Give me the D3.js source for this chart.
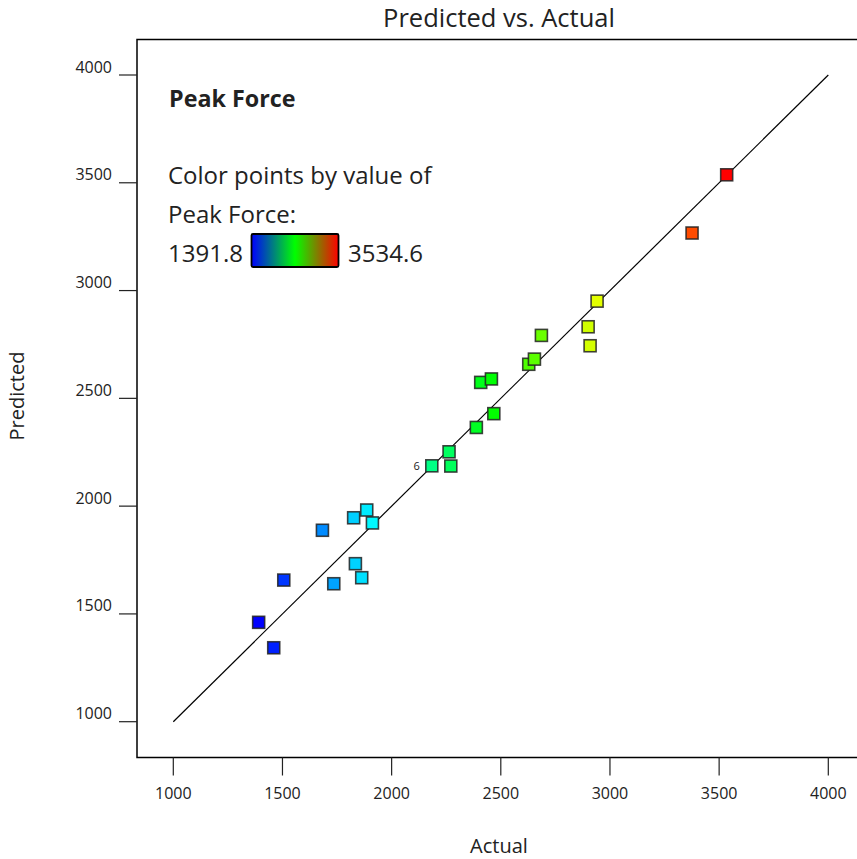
<!DOCTYPE html>
<html>
<head>
<meta charset="utf-8">
<script src="https://cdn.jsdelivr.net/npm/d3@7"></script>
<style>
  body { margin: 0; background: #fff; }
  text { font-family: "Open Sans", "Noto Sans", sans-serif; fill: #222; }
</style>
</head>
<body>
<div id="chart"></div>
<script>
// values (Actual vs Predicted, Peak Force)
const actual    = [1391, 1460, 1506, 1683, 1735, 1826, 1886, 1912, 1834, 1863,
                   2184, 2263, 2271, 2388, 2468, 2408, 2457, 2628, 2654, 2686,
                   2900, 2909, 2941, 3376, 3534.6];
const predicted = [1461, 1343, 1657, 1888, 1640, 1946, 1982, 1922, 1733, 1668,
                   2187, 2252, 2186, 2365, 2429, 2574, 2590, 2658, 2682, 2792,
                   2832, 2744, 2951, 3267, 3537];
const pointLabels = {10: "6"};
const ticks = [1000, 1500, 2000, 2500, 3000, 3500, 4000];
const colorMin = 1391.8, colorMax = 3534.6;

const width = 857, height = 859;
const frame = {left: 137, top: 39.5, right: 857, bottom: 757.5};

const svg = d3.select("#chart").append("svg")
    .attr("width", width)
    .attr("height", height);

const x = d3.scaleLinear().domain([1000, 4000]).range([173.3, 828.3]);
const y = d3.scaleLinear().domain([1000, 4000]).range([721.7, 75]);

const rainbow = d3.scaleLinear()
    .domain([0, 0.25, 0.5, 0.75, 1])
    .range(["#0000ff", "#00ffff", "#00ff00", "#ffff00", "#ff0000"])
    .interpolate(d3.interpolateRgb);
const color = v => rainbow((v - colorMin) / (colorMax - colorMin));

// frame (left, top, bottom)
svg.append("path")
    .attr("d", `M${frame.right},${frame.top} H${frame.left} V${frame.bottom} H${frame.right}`)
    .attr("fill", "none")
    .attr("stroke", "#000")
    .attr("stroke-width", 1.5);

// x ticks
const xt = svg.append("g");
xt.selectAll("line").data(ticks).enter().append("line")
    .attr("x1", d => x(d)).attr("x2", d => x(d))
    .attr("y1", frame.bottom).attr("y2", frame.bottom + 18)
    .attr("stroke", "#222").attr("stroke-width", 1.2);
xt.selectAll("text").data(ticks).enter().append("text")
    .attr("x", d => x(d)).attr("y", 798.5)
    .attr("text-anchor", "middle")
    .attr("font-size", 16)
    .text(d => d);

// y ticks
const yt = svg.append("g");
yt.selectAll("line").data(ticks).enter().append("line")
    .attr("x1", frame.left - 18).attr("x2", frame.left)
    .attr("y1", d => y(d)).attr("y2", d => y(d))
    .attr("stroke", "#222").attr("stroke-width", 1.2);
yt.selectAll("text").data(ticks).enter().append("text")
    .attr("x", 112).attr("y", d => y(d) - 2.5)
    .attr("text-anchor", "end")
    .attr("font-size", 16)
    .text(d => d);

// titles
svg.append("text")
    .attr("x", 499).attr("y", 27)
    .attr("text-anchor", "middle")
    .attr("font-size", 25.5)
    .text("Predicted vs. Actual");
svg.append("text")
    .attr("x", 499).attr("y", 853)
    .attr("text-anchor", "middle")
    .attr("font-size", 20)
    .text("Actual");
svg.append("text")
    .attr("transform", "translate(24,396) rotate(-90)")
    .attr("text-anchor", "middle")
    .attr("font-size", 20)
    .text("Predicted");

// diagonal y = x
svg.append("line")
    .attr("x1", x(1000)).attr("y1", y(1000))
    .attr("x2", x(4000)).attr("y2", y(4000))
    .attr("stroke", "#000").attr("stroke-width", 1.2);

// points
const pts = actual.map((a, i) => ({a: a, p: predicted[i], i: i}));
const side = 12;
svg.append("g").selectAll("rect").data(pts).enter().append("rect")
    .attr("x", d => x(d.a) - side / 2)
    .attr("y", d => y(d.p) - side / 2)
    .attr("width", side).attr("height", side)
    .attr("fill", d => color(d.a))
    .attr("stroke", "#222")
    .attr("stroke-opacity", 0.85)
    .attr("stroke-width", 1.6);

svg.append("g").selectAll("text").data(pts.filter(d => pointLabels[d.i])).enter().append("text")
    .attr("x", d => x(d.a) - 12).attr("y", d => y(d.p) + 4)
    .attr("text-anchor", "end")
    .attr("font-size", 11)
    .attr("fill", "#444")
    .text(d => pointLabels[d.i]);

// legend
svg.append("text")
    .attr("x", 169).attr("y", 107)
    .attr("font-size", 23.3)
    .attr("font-weight", "bold")
    .text("Peak Force");
svg.append("text")
    .attr("x", 168).attr("y", 184)
    .attr("font-size", 24)
    .text("Color points by value of");
svg.append("text")
    .attr("x", 168).attr("y", 223)
    .attr("font-size", 24)
    .text("Peak Force:");
svg.append("text")
    .attr("x", 168).attr("y", 262)
    .attr("font-size", 24)
    .text(colorMin.toFixed(1));
svg.append("text")
    .attr("x", 348).attr("y", 262)
    .attr("font-size", 24)
    .text(colorMax.toFixed(1));

const grad = svg.append("defs").append("linearGradient")
    .attr("id", "pf-grad");
grad.selectAll("stop").data([["0%", "#0000ff"], ["50%", "#00ff00"], ["100%", "#ff0000"]])
    .enter().append("stop")
    .attr("offset", d => d[0])
    .attr("stop-color", d => d[1]);
svg.append("rect")
    .attr("x", 251.5).attr("y", 234)
    .attr("width", 87).attr("height", 33)
    .attr("rx", 1.5)
    .attr("fill", "url(#pf-grad)")
    .attr("stroke", "#000")
    .attr("stroke-width", 1.8);
</script>
</body>
</html>
